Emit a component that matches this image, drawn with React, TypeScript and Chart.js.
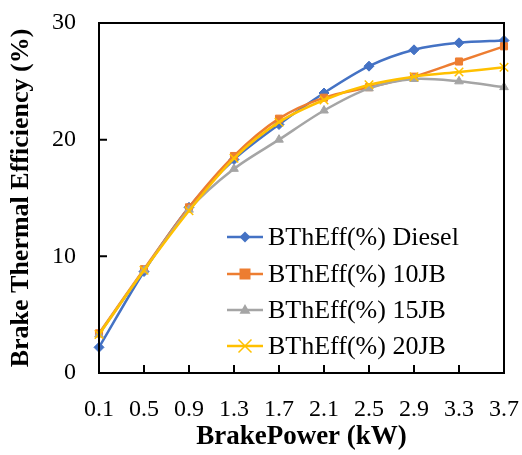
import React, { useEffect, useRef } from "react";
import { Chart, registerables } from "chart.js";

Chart.register(...registerables);

const categories = ["0.1", "0.5", "0.9", "1.3", "1.7", "2.1", "2.5", "2.9", "3.3", "3.7"];
const diesel = [2.2, 8.7, 14.2, 18.3, 21.3, 24.0, 26.3, 27.7, 28.3, 28.5];
const jb10 = [3.4, 8.9, 14.2, 18.6, 21.8, 23.6, 24.5, 25.4, 26.7, 28.0];
const jb15 = [3.3, 8.8, 14.0, 17.5, 20.0, 22.5, 24.4, 25.2, 25.0, 24.5];
const jb20 = [3.3, 8.8, 13.9, 18.4, 21.5, 23.4, 24.7, 25.4, 25.8, 26.2];
const seriesNames = ["BThEff(%) Diesel", "BThEff(%) 10JB", "BThEff(%) 15JB", "BThEff(%) 20JB"];
const yTicks = [0, 10, 20, 30];

const FONT = "'Liberation Serif', 'Times New Roman', serif";

function drawMarker(ctx: CanvasRenderingContext2D, style: string, x: number, y: number, r: number, color: string) {
  ctx.save();
  ctx.fillStyle = color;
  ctx.strokeStyle = color;
  ctx.beginPath();
  if (style === "rectRot") {
    ctx.moveTo(x, y - r);
    ctx.lineTo(x + r, y);
    ctx.lineTo(x, y + r);
    ctx.lineTo(x - r, y);
    ctx.closePath();
    ctx.fill();
  } else if (style === "rect") {
    ctx.rect(x - r, y - r, 2 * r, 2 * r);
    ctx.fill();
  } else if (style === "triangle") {
    ctx.moveTo(x, y - r * 1.1);
    ctx.lineTo(x + r, y + r * 0.7);
    ctx.lineTo(x - r, y + r * 0.7);
    ctx.closePath();
    ctx.fill();
  } else {
    ctx.lineWidth = 1.5;
    ctx.moveTo(x - r, y - r);
    ctx.lineTo(x + r, y + r);
    ctx.moveTo(x + r, y - r);
    ctx.lineTo(x - r, y + r);
    ctx.stroke();
  }
  ctx.restore();
}

const frameAndLegend = {
  id: "frameAndLegend",
  afterDatasetsDraw(chart: any) {
    const ctx: CanvasRenderingContext2D = chart.ctx;
    const { left, right, top, bottom } = chart.chartArea;
    const xs = chart.scales.x;
    const ys = chart.scales.y;
    ctx.save();
    ctx.strokeStyle = "#000";
    ctx.lineWidth = 2;
    ctx.strokeRect(left, top, right - left, bottom - top);
    ctx.beginPath();
    for (const v of yTicks) {
      const py = ys.getPixelForValue(v);
      ctx.moveTo(left, py);
      ctx.lineTo(left + 8, py);
    }
    for (let i = 0; i < categories.length; i++) {
      const px = xs.getPixelForValue(i);
      ctx.moveTo(px, bottom);
      ctx.lineTo(px, bottom - 8);
    }
    ctx.stroke();

    // legend
    const lx0 = 227;
    const lx1 = 263;
    const tx = 268;
    const rows = [237, 274, 310, 346];
    ctx.font = "26px " + FONT;
    ctx.textBaseline = "middle";
    ctx.textAlign = "left";
    chart.data.datasets.forEach((ds: any, i: number) => {
      const y = rows[i];
      ctx.strokeStyle = ds.borderColor;
      ctx.lineWidth = 2.5;
      ctx.beginPath();
      ctx.moveTo(lx0, y);
      ctx.lineTo(lx1, y);
      ctx.stroke();
      drawMarker(ctx, ds.pointStyle, (lx0 + lx1) / 2, y, ds.pointRadius + 0.5, ds.borderColor);
      ctx.fillStyle = "#000";
      ctx.fillText(seriesNames[i], tx, y + 1);
    });
    ctx.restore();
  },
};

export default function App() {
  const ref = useRef<HTMLCanvasElement | null>(null);
  useEffect(() => {
    if (!ref.current) return;
    const mk = (label: string, data: number[], color: string, style: string, r: number, order: number) => ({
      label,
      data,
      borderColor: color,
      backgroundColor: color,
      pointBackgroundColor: color,
      pointBorderColor: color,
      pointStyle: style,
      pointRadius: r,
      pointBorderWidth: style === "crossRot" ? 1.5 : 1,
      borderWidth: 2.5,
      tension: 0.3,
      order,
    });
    const chart = new Chart(ref.current, {
      type: "line",
      data: {
        labels: categories,
        datasets: [
          mk(seriesNames[0], diesel, "#4472C4", "rectRot", 5, 4),
          mk(seriesNames[1], jb10, "#ED7D31", "rect", 5, 3),
          mk(seriesNames[2], jb15, "#A5A5A5", "triangle", 5, 2),
          mk(seriesNames[3], jb20, "#FFC000", "crossRot", 6, 1),
        ] as any,
      },
      options: {
        animation: false,
        responsive: false,
        maintainAspectRatio: false,
        layout: { padding: { left: 0, right: 18, top: 23, bottom: 0 } },
        plugins: { legend: { display: false }, tooltip: { enabled: false } },
        scales: {
          x: {
            type: "category",
            offset: false,
            grid: { display: false, drawTicks: false },
            border: { display: false },
            ticks: { color: "#000", font: { family: FONT, size: 24 }, padding: 22, maxRotation: 0, autoSkip: false },
            title: {
              display: true,
              text: "BrakePower (kW)",
              color: "#000",
              font: { family: FONT, size: 27, weight: "bold" },
              padding: { top: 0, bottom: 2 },
            },
            afterFit: (s: any) => {
              s.height = 455 - 373;
              s.paddingLeft = 0;
              s.paddingRight = 0;
            },
          },
          y: {
            min: 0,
            max: 30,
            grid: { display: false, drawTicks: false },
            border: { display: false },
            ticks: { stepSize: 10, color: "#000", font: { family: FONT, size: 24 }, padding: 23 },
            title: {
              display: true,
              text: "Brake Thermal Efficiency (%)",
              color: "#000",
              font: { family: FONT, size: 26, weight: "bold" },
              padding: { top: 6, bottom: 0 },
            },
            afterFit: (s: any) => {
              s.width = 99;
              s.paddingTop = 0;
              s.paddingBottom = 0;
            },
          },
        },
      },
      plugins: [frameAndLegend],
    });
    return () => chart.destroy();
  }, []);
  return (
    <div style={{ position: "absolute", left: 0, top: 0, width: 522, height: 455, background: "#fff" }}>
      <canvas ref={ref} width={522} height={455} style={{ width: 522, height: 455 }} />
    </div>
  );
}
